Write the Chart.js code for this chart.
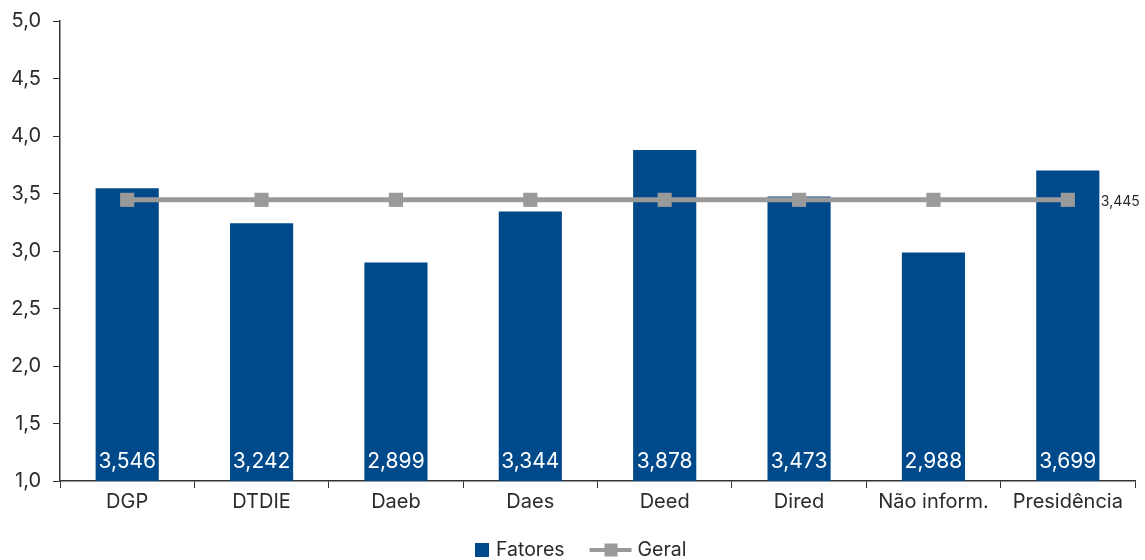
<!DOCTYPE html>
<html>
<head>
<meta charset="utf-8">
<script src="https://cdn.jsdelivr.net/npm/chart.js@4.4.1/dist/chart.umd.min.js"></script>
<style>
  html, body { margin: 0; padding: 0; background: #fff; }
  #wrap { width: 1145px; height: 560px; }
</style>
</head>
<body>
<div id="wrap"><canvas id="c" width="1145" height="560"></canvas></div>
<script>
const categories = ['DGP', 'DTDIE', 'Daeb', 'Daes', 'Deed', 'Dired', 'Não inform.', 'Presidência'];
const fatores = [3.546, 3.242, 2.899, 3.344, 3.878, 3.473, 2.988, 3.699];
const geral = [3.445, 3.445, 3.445, 3.445, 3.445, 3.445, 3.445, 3.445];
const yTicks = [1.0, 1.5, 2.0, 2.5, 3.0, 3.5, 4.0, 4.5, 5.0];
const seriesNames = ['Fatores', 'Geral'];

const BLUE = '#004a8c';
const GRAY = '#9a9a9a';
const TEXT = '#2b2b2b';
const FONT = 'Inter, "Open Sans", sans-serif';

const fmt = v => v.toFixed(3).replace('.', ',');
const fmtTick = v => v.toFixed(1).replace('.', ',');

// value labels inside the bar bottoms, plus the last value of the line
const valueLabels = {
  id: 'valueLabels',
  afterDatasetsDraw(chart) {
    const ctx = chart.ctx;
    ctx.save();
    const bars = chart.getDatasetMeta(0).data;
    ctx.font = '21px ' + FONT;
    ctx.fillStyle = '#ffffff';
    ctx.textAlign = 'center';
    ctx.textBaseline = 'alphabetic';
    const bottom = chart.scales.y.getPixelForValue(1.0);
    bars.forEach((b, i) => {
      ctx.fillText(fmt(fatores[i]), b.x, bottom - 13);
    });
    const pts = chart.getDatasetMeta(1).data;
    const last = pts[pts.length - 1];
    ctx.font = '14px ' + FONT;
    ctx.fillStyle = TEXT;
    ctx.textAlign = 'left';
    ctx.textBaseline = 'middle';
    ctx.fillText(fmt(geral[geral.length - 1]), last.x + 33, last.y + 2);
    ctx.restore();
  }
};

// bottom legend: blue square for the bars, line with square marker for the line
const bottomLegend = {
  id: 'bottomLegend',
  afterDraw(chart) {
    const ctx = chart.ctx;
    ctx.save();
    ctx.font = '19.5px ' + FONT;
    ctx.textBaseline = 'middle';
    ctx.textAlign = 'left';
    const y = chart.height - 10;
    const w0 = ctx.measureText(seriesNames[0]).width;
    const w1 = ctx.measureText(seriesNames[1]).width;
    const total = 14 + 7 + w0 + 25 + 42 + 6 + w1;
    let x = Math.round(chart.width / 2 - total / 2 + 8);
    ctx.fillStyle = BLUE;
    ctx.fillRect(x, y - 7, 14, 14);
    x += 21;
    ctx.fillStyle = TEXT;
    ctx.fillText(seriesNames[0], x, y);
    x += w0 + 25;
    ctx.fillStyle = GRAY;
    ctx.fillRect(x, y - 2, 42, 4);
    ctx.fillRect(x + 15, y - 6.5, 13, 13);
    x += 48;
    ctx.fillStyle = TEXT;
    ctx.fillText(seriesNames[1], x, y);
    ctx.restore();
  }
};

new Chart(document.getElementById('c'), {
  data: {
    labels: categories,
    datasets: [
      {
        type: 'bar',
        label: seriesNames[0],
        data: fatores,
        backgroundColor: BLUE,
        barPercentage: 0.47,
        categoryPercentage: 1.0,
        order: 2
      },
      {
        type: 'line',
        label: seriesNames[1],
        data: geral,
        borderColor: GRAY,
        borderWidth: 5,
        backgroundColor: GRAY,
        pointStyle: 'rect',
        pointRadius: 10,
        pointHoverRadius: 10,
        pointBorderWidth: 0,
        order: 1
      }
    ]
  },
  options: {
    responsive: false,
    devicePixelRatio: 1,
    animation: false,
    layout: { padding: { top: 21, right: 8, left: 0, bottom: 44 } },
    scales: {
      x: {
        grid: { display: true, drawOnChartArea: false, drawTicks: true, tickLength: 7, color: '#333', offset: true },
        border: { display: true, color: '#333', width: 1.5 },
        ticks: { color: TEXT, font: { family: FONT, size: 20 }, padding: 2 }
      },
      y: {
        min: 1, max: 5,
        afterBuildTicks(scale) { scale.ticks = yTicks.map(v => ({ value: v })); },
        afterFit(scale) { scale.width = 60; scale.paddingTop = 0; },
        grid: { display: true, drawOnChartArea: false, drawTicks: true, tickLength: 7, color: '#333' },
        border: { display: true, color: '#333', width: 1.5 },
        ticks: { color: TEXT, font: { family: FONT, size: 20, lineHeight: 1.0 }, padding: 12, callback: v => fmtTick(v) }
      }
    },
    plugins: {
      legend: { display: false },
      tooltip: { enabled: false }
    }
  },
  plugins: [valueLabels, bottomLegend]
});
</script>
</body>
</html>
